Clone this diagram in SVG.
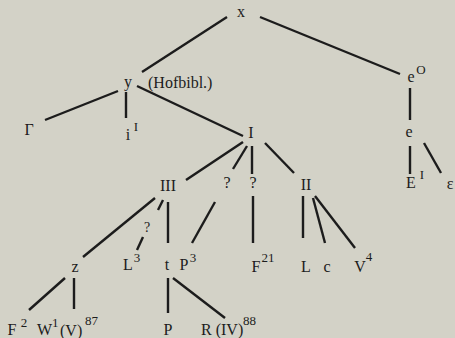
<svg xmlns="http://www.w3.org/2000/svg" width="455" height="338" viewBox="0 0 455 338">
<style>
.bg{fill:#d3d2c7}
.c line{stroke:#1c1c1c;stroke-width:2.4;stroke-linecap:butt}
text{font-family:"Liberation Serif","Times New Roman",serif;font-size:16px;fill:#1c1c1c;text-anchor:middle}
.s{font-size:13px}
.l{text-anchor:start}
</style>
<rect class="bg" x="0" y="0" width="455" height="338"/>
<g class="c" id="connectors">
<line x1="227" y1="17" x2="142" y2="72"/>
<line x1="260" y1="17" x2="400" y2="74"/>
<line x1="118" y1="91" x2="45" y2="120"/>
<line x1="126" y1="92" x2="126" y2="118"/>
<line x1="137" y1="86" x2="243" y2="136"/>
<line x1="410" y1="88" x2="410" y2="120"/>
<line x1="410" y1="146" x2="410" y2="174"/>
<line x1="424" y1="143" x2="441" y2="173"/>
<line x1="243" y1="142" x2="186" y2="180"/>
<line x1="247" y1="146" x2="233" y2="169"/>
<line x1="252" y1="146" x2="252" y2="174"/>
<line x1="265" y1="143" x2="294" y2="173"/>
<line x1="155" y1="198" x2="83" y2="257"/>
<line x1="163" y1="200" x2="158" y2="210"/>
<line x1="168" y1="202" x2="168" y2="243"/>
<line x1="215" y1="202" x2="192" y2="243"/>
<line x1="143" y1="237" x2="137" y2="250"/>
<line x1="253" y1="196" x2="253" y2="243"/>
<line x1="303" y1="196" x2="303" y2="238"/>
<line x1="313" y1="198" x2="325" y2="243"/>
<line x1="315" y1="196" x2="355" y2="248"/>
<line x1="65" y1="278" x2="29" y2="310"/>
<line x1="74" y1="278" x2="74" y2="309"/>
<line x1="168" y1="278" x2="168" y2="313"/>
<line x1="173" y1="278" x2="225" y2="318"/>
</g>
<g id="n-x"><text x="241" y="17">x</text></g>
<g id="n-y"><text x="128" y="87">y</text><text class="l" x="148" y="88">(Hofbibl.)</text></g>
<g id="n-eO"><text x="411" y="82">e</text><text class="s" x="421" y="74">O</text></g>
<g id="n-Gamma"><text x="29" y="135">Γ</text></g>
<g id="n-iI"><text x="128" y="140">i</text><text class="s" x="136" y="131">I</text></g>
<g id="n-I"><text x="251" y="138">I</text></g>
<g id="n-e"><text x="409" y="137">e</text></g>
<g id="n-EI"><text x="411" y="188">E</text><text class="s" x="422" y="179">I</text></g>
<g id="n-epsilon"><text x="450" y="189">ε</text></g>
<g id="n-III"><text x="168" y="191">III</text></g>
<g id="n-q1"><text x="227" y="188">?</text></g>
<g id="n-q2"><text x="253" y="188">?</text></g>
<g id="n-II"><text x="306" y="190">II</text></g>
<g id="n-q3"><text x="147" y="232" style="font-size:14px">?</text></g>
<g id="n-z"><text x="75" y="272">z</text></g>
<g id="n-L3"><text x="128" y="270">L</text><text class="s" x="137" y="262">3</text></g>
<g id="n-t"><text x="167" y="270">t</text></g>
<g id="n-P3"><text x="184" y="270">P</text><text class="s" x="193" y="262">3</text></g>
<g id="n-F21"><text x="256" y="272">F</text><text class="s" x="268" y="262">21</text></g>
<g id="n-L"><text x="306" y="272">L</text></g>
<g id="n-c"><text x="327" y="272">c</text></g>
<g id="n-V4"><text x="360" y="272">V</text><text class="s" x="369" y="261">4</text></g>
<g id="n-F2"><text x="12" y="335">F</text><text class="s" x="24" y="327">2</text></g>
<g id="n-W"><text class="l" x="37" y="335">W</text><text class="s l" x="52" y="327">1</text><text class="l" x="60" y="336">(V)</text><text class="s l" x="85" y="325">87</text></g>
<g id="n-P"><text x="168" y="335">P</text></g>
<g id="n-R"><text class="l" x="201" y="335">R (IV)</text><text class="s l" x="243" y="325">88</text></g>
</svg>
